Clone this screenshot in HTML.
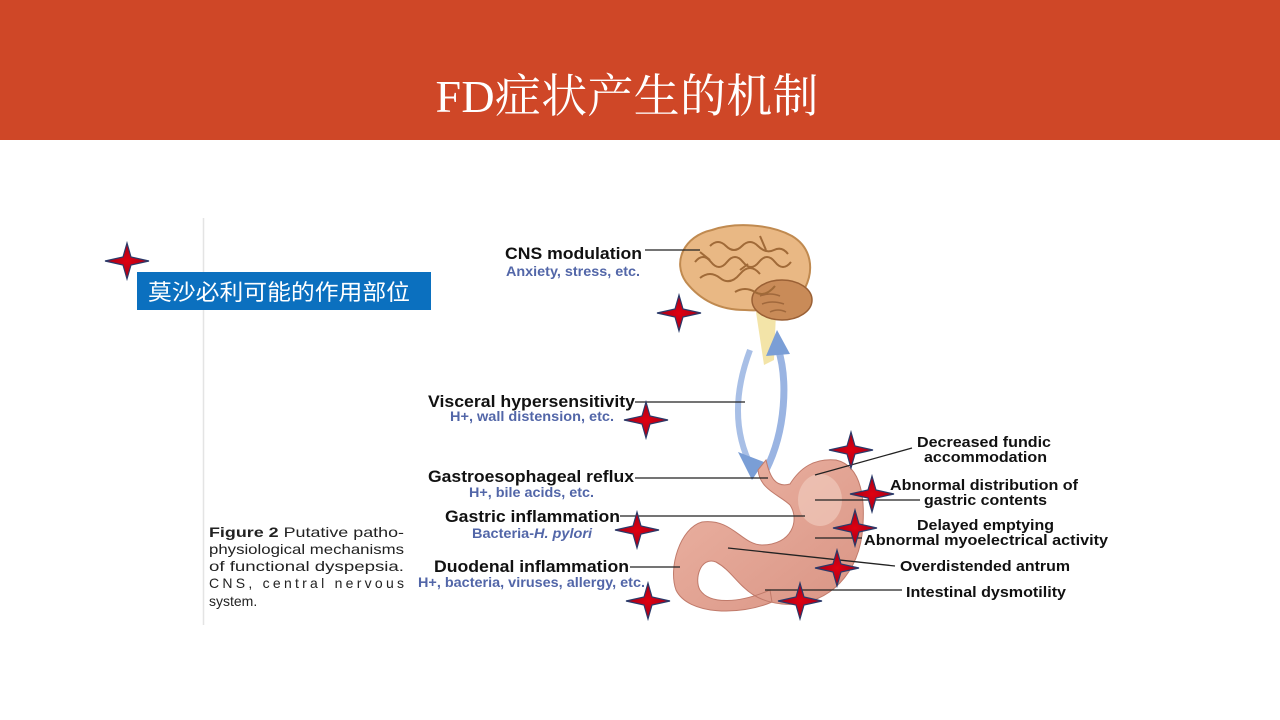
<!DOCTYPE html>
<html><head><meta charset="utf-8"><style>
html,body{margin:0;padding:0;width:1280px;height:720px;overflow:hidden;background:#fff}
svg{display:block}
.l{font-family:"Liberation Sans",sans-serif;font-weight:bold;font-size:16.5px;fill:#111}
.r{font-family:"Liberation Sans",sans-serif;font-weight:bold;font-size:15px;fill:#111}
.s{font-family:"Liberation Sans",sans-serif;font-weight:bold;font-size:13.5px;fill:#5266a8}
.c{font-family:"Liberation Sans",sans-serif;font-size:14px;fill:#222}
</style></head><body>
<svg width="1280" height="720" viewBox="0 0 1280 720">
<defs>
<radialGradient id="st" cx="50%" cy="50%" r="50%"><stop offset="0" stop-color="#e00010"/><stop offset="1" stop-color="#a0001a"/></radialGradient>
<g id="star"><polygon points="0,-18 4,-4 22,0 4,4 0,18 -4,4 -22,0 -4,-4" fill="url(#st)" stroke="#2a3a6a" stroke-width="1.2"/></g>
<linearGradient id="sg" x1="0" y1="0" x2="1" y2="1"><stop offset="0" stop-color="#ecb4a4"/><stop offset="1" stop-color="#d99484"/></linearGradient>
</defs>
<rect x="0" y="0" width="1280" height="140" fill="#CF4727"/>
<text x="627" y="112" text-anchor="middle" font-family="Liberation Serif,'Noto Serif CJK SC',serif" font-size="46" fill="#fff" textLength="383">FD症状产生的机制</text>
<line x1="203.5" y1="218" x2="203.5" y2="625" stroke="#e4e4e4" stroke-width="1.5"/>
<rect x="137" y="272" width="294" height="38" fill="#0B70BF"/>
<text x="148" y="300" font-family="'Liberation Sans','Noto Sans CJK SC',sans-serif" font-size="22" fill="#fff" textLength="262" lengthAdjust="spacingAndGlyphs">莫沙必利可能的作用部位</text>

<!-- spinal/arrows -->
<path d="M756,312 L776,312 L774,360 L764,365Z" fill="#f3e4a8"/>
<path d="M750,350 C735,390 732,430 752,468" stroke="#a8bfe6" stroke-width="6" fill="none"/>
<polygon points="738,452 764,462 752,480" fill="#7a9ed6"/>
<path d="M766,470 C786,430 788,380 778,348" stroke="#9ab4e2" stroke-width="7" fill="none"/>
<polygon points="766,356 777,330 790,354" fill="#7a9ed6"/>
<!-- brain -->
<path d="M686,282 C672,262 684,236 712,230 C735,222 770,224 792,236 C812,248 814,270 805,288 C795,305 770,312 745,310 C720,310 700,300 686,282Z" fill="#E9B884" stroke="#c08a50" stroke-width="2"/>
<ellipse cx="782" cy="300" rx="30" ry="20" fill="#c98b58" stroke="#9a6035" stroke-width="1.5"/>
<path d="M695,262 q8,-10 16,0 t16,0 t16,0 t16,0 t16,0 t16,0 M700,278 q10,-8 20,0 t20,-4 t20,0 M710,246 q8,-8 16,0 t16,0 t16,0 t16,4 t14,4 M735,292 q10,-6 20,0 t20,-6 M700,252 l10,8 M760,236 l6,14 M740,270 l8,-6" stroke="#a06a38" stroke-width="2" fill="none"/>
<path d="M760,296 q10,-4 20,0 M762,304 q10,-4 22,0 M770,312 q8,-4 16,0" stroke="#a0683c" stroke-width="1.5" fill="none"/>
<!-- stomach -->
<path d="M766,460 C770,478 776,488 790,484 C800,468 814,458 836,460 C862,466 866,500 862,535 C856,580 822,608 782,604 C742,600 738,574 716,562 C700,556 694,580 700,590 C710,605 740,603 770,590 L772,602 C740,616 688,615 676,590 C668,568 680,528 702,522 C732,518 742,545 762,545 C792,545 800,520 790,505 C780,495 760,490 758,470Z" fill="url(#sg)" stroke="#c07a6a" stroke-width="1"/>
<ellipse cx="820" cy="500" rx="22" ry="26" fill="#f2cfc2" opacity="0.6"/>

<!-- leader lines -->
<g stroke="#222" stroke-width="1.3">
<line x1="645" y1="250" x2="700" y2="250"/>
<line x1="635" y1="402" x2="745" y2="402"/>
<line x1="635" y1="478" x2="768" y2="478"/>
<line x1="620" y1="516" x2="805" y2="516"/>
<line x1="630" y1="567" x2="680" y2="567"/>
<line x1="815" y1="475" x2="912" y2="448"/>
<line x1="815" y1="500" x2="920" y2="500"/>
<line x1="815" y1="538" x2="862" y2="538"/>
<line x1="728" y1="548" x2="895" y2="566"/>
<line x1="765" y1="590" x2="902" y2="590"/>
</g>

<!-- labels -->
<text class="l" x="505" y="259" textLength="137" lengthAdjust="spacingAndGlyphs">CNS modulation</text>
<text class="s" x="506" y="276" textLength="134" lengthAdjust="spacingAndGlyphs">Anxiety, stress, etc.</text>
<text class="l" x="428" y="407" textLength="207" lengthAdjust="spacingAndGlyphs">Visceral hypersensitivity</text>
<text class="s" x="450" y="421" textLength="164" lengthAdjust="spacingAndGlyphs">H+, wall distension, etc.</text>
<text class="l" x="428" y="482" textLength="206" lengthAdjust="spacingAndGlyphs">Gastroesophageal reflux</text>
<text class="s" x="469" y="497" textLength="125" lengthAdjust="spacingAndGlyphs">H+, bile acids, etc.</text>
<text class="l" x="445" y="522" textLength="175" lengthAdjust="spacingAndGlyphs">Gastric inflammation</text>
<text class="s" x="472" y="538" textLength="120" lengthAdjust="spacingAndGlyphs">Bacteria-<tspan font-style="italic">H. pylori</tspan></text>
<text class="l" x="434" y="572" textLength="195" lengthAdjust="spacingAndGlyphs">Duodenal inflammation</text>
<text class="s" x="418" y="587" textLength="227" lengthAdjust="spacingAndGlyphs">H+, bacteria, viruses, allergy, etc.</text>
<text class="r" x="917" y="447" textLength="134" lengthAdjust="spacingAndGlyphs">Decreased fundic</text>
<text class="r" x="924" y="462" textLength="123" lengthAdjust="spacingAndGlyphs">accommodation</text>
<text class="r" x="890" y="490" textLength="188" lengthAdjust="spacingAndGlyphs">Abnormal distribution of</text>
<text class="r" x="924" y="505" textLength="123" lengthAdjust="spacingAndGlyphs">gastric contents</text>
<text class="r" x="917" y="530" textLength="137" lengthAdjust="spacingAndGlyphs">Delayed emptying</text>
<text class="r" x="864" y="545" textLength="244" lengthAdjust="spacingAndGlyphs">Abnormal myoelectrical activity</text>
<text class="r" x="900" y="571" textLength="170" lengthAdjust="spacingAndGlyphs">Overdistended antrum</text>
<text class="r" x="906" y="597" textLength="160" lengthAdjust="spacingAndGlyphs">Intestinal dysmotility</text>

<!-- caption -->
<text class="c" x="209" y="537" textLength="195" lengthAdjust="spacingAndGlyphs"><tspan font-weight="bold">Figure 2</tspan> Putative patho-</text>
<text class="c" x="209" y="554" textLength="195" lengthAdjust="spacingAndGlyphs">physiological mechanisms</text>
<text class="c" x="209" y="571" textLength="195" lengthAdjust="spacingAndGlyphs">of functional dyspepsia.</text>
<text class="c" x="209" y="588" textLength="195">CNS, central nervous</text>
<text class="c" x="209" y="606">system.</text>

<!-- stars -->
<use href="#star" x="127" y="261"/>
<use href="#star" x="679" y="313"/>
<use href="#star" x="646" y="420"/>
<use href="#star" x="851" y="450"/>
<use href="#star" x="872" y="494"/>
<use href="#star" x="637" y="530"/>
<use href="#star" x="855" y="528"/>
<use href="#star" x="837" y="568"/>
<use href="#star" x="648" y="601"/>
<use href="#star" x="800" y="601"/>
</svg>
</body></html>
